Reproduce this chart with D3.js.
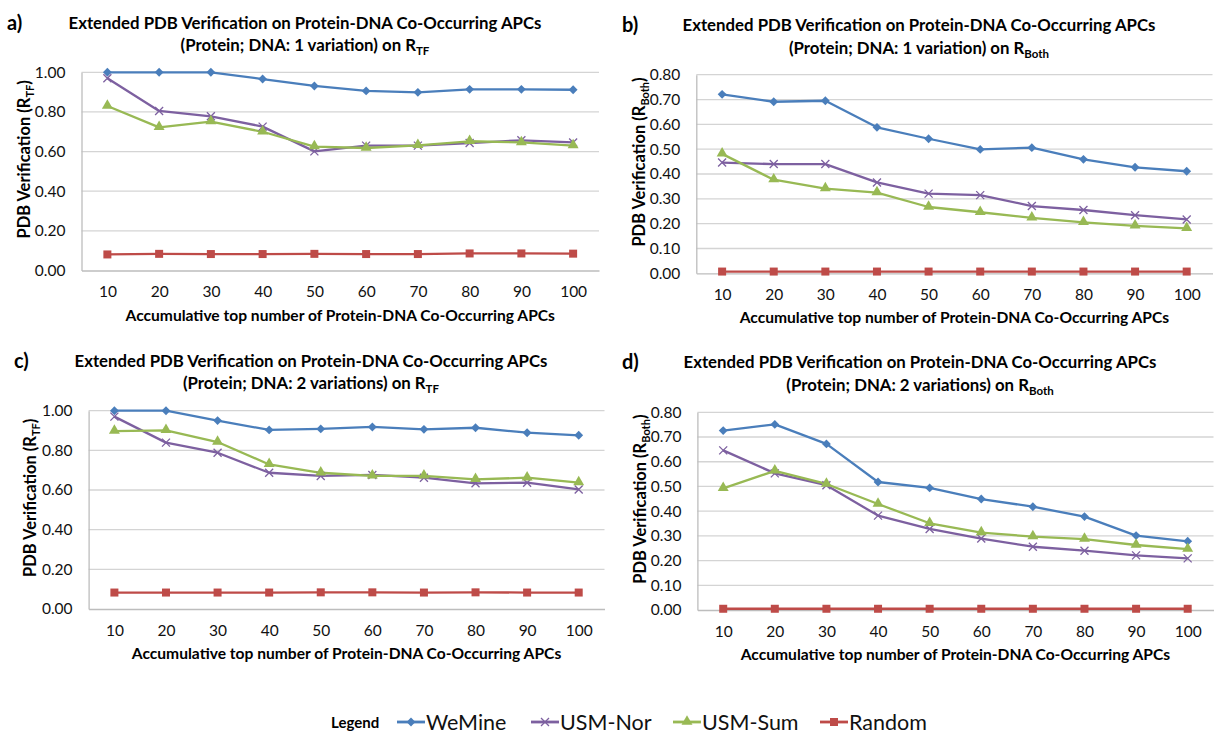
<!DOCTYPE html>
<html>
<head>
<meta charset="utf-8">
<script src="https://cdn.jsdelivr.net/npm/d3@7"></script>
<style>
  html, body { margin: 0; padding: 0; background: #ffffff; }
  svg { display: block; font-family: Lato, "Open Sans", sans-serif; }
</style>
</head>
<body>
<svg id="chart" width="1214" height="735"></svg>
<script>
// ---------- data ----------
const categories = [10, 20, 30, 40, 50, 60, 70, 80, 90, 100];
const seriesNames = ["WeMine", "USM-Nor", "USM-Sum", "Random"];
const seriesColors = ["#4A7EBB", "#7D60A0", "#98B954", "#BE4B48"];
const seriesMarkers = ["diamond", "cross", "triangle", "square"];

// a) 1 variation, R_TF
const aWeMine = [1.000, 1.000, 1.000, 0.966, 0.931, 0.906, 0.899, 0.914, 0.914, 0.912];
const aUsmNor = [0.970, 0.805, 0.778, 0.726, 0.601, 0.630, 0.630, 0.643, 0.657, 0.646];
const aUsmSum = [0.830, 0.722, 0.751, 0.700, 0.625, 0.618, 0.631, 0.652, 0.646, 0.630];
const aRandom = [0.081, 0.084, 0.083, 0.083, 0.084, 0.083, 0.083, 0.086, 0.086, 0.085];

// b) 1 variation, R_Both
const bWeMine = [0.721, 0.691, 0.695, 0.588, 0.542, 0.499, 0.506, 0.459, 0.427, 0.411];
const bUsmNor = [0.446, 0.440, 0.440, 0.366, 0.321, 0.315, 0.271, 0.255, 0.234, 0.217];
const bUsmSum = [0.481, 0.377, 0.341, 0.325, 0.267, 0.246, 0.223, 0.205, 0.191, 0.181];
const bRandom = [0.007, 0.007, 0.007, 0.007, 0.007, 0.007, 0.007, 0.007, 0.007, 0.007];

// c) 2 variations, R_TF
const cWeMine = [1.000, 1.000, 0.950, 0.903, 0.908, 0.918, 0.906, 0.914, 0.889, 0.876];
const cUsmNor = [0.970, 0.839, 0.788, 0.687, 0.671, 0.676, 0.662, 0.634, 0.637, 0.603];
const cUsmSum = [0.897, 0.901, 0.842, 0.729, 0.687, 0.671, 0.671, 0.654, 0.662, 0.637];
const cRandom = [0.083, 0.083, 0.083, 0.083, 0.084, 0.084, 0.083, 0.084, 0.083, 0.083];

// d) 2 variations, R_Both
const dWeMine = [0.726, 0.751, 0.672, 0.518, 0.494, 0.449, 0.418, 0.378, 0.301, 0.278];
const dUsmNor = [0.646, 0.553, 0.505, 0.382, 0.328, 0.289, 0.256, 0.240, 0.221, 0.209];
const dUsmSum = [0.492, 0.563, 0.510, 0.429, 0.351, 0.313, 0.297, 0.287, 0.263, 0.246];
const dRandom = [0.005, 0.005, 0.005, 0.005, 0.005, 0.005, 0.005, 0.005, 0.005, 0.005];

const ticksTF = [0, 0.2, 0.4, 0.6, 0.8, 1.0];
const ticksBoth = [0, 0.1, 0.2, 0.3, 0.4, 0.5, 0.6, 0.7, 0.8];

const titleLine1 = "Extended PDB Verification on Protein-DNA Co-Occurring APCs";
const xAxisTitle = "Accumulative top number of Protein-DNA Co-Occurring APCs";
const legendTitle = "Legend";

// ---------- layout ----------
const panels = [
  { tag: "a)", line2: "(Protein; DNA: 1 variation) on R", sub: "TF", ymax: 1.0, ticks: ticksTF,
    data: [aWeMine, aUsmNor, aUsmSum, aRandom],
    left: 81.5, right: 599, top: 72.3, bottom: 270.5, titleX: 305, titleY: 22.7, tagX: 7, yTitleX: 24 },
  { tag: "b)", line2: "(Protein; DNA: 1 variation) on R", sub: "Both", ymax: 0.8, ticks: ticksBoth,
    data: [bWeMine, bUsmNor, bUsmSum, bRandom],
    left: 696.3, right: 1212.5, top: 74.7, bottom: 273.3, titleX: 919, titleY: 25, tagX: 622, yTitleX: 639 },
  { tag: "c)", line2: "(Protein; DNA: 2 variations) on R", sub: "TF", ymax: 1.0, ticks: ticksTF,
    data: [cWeMine, cUsmNor, cUsmSum, cRandom],
    left: 88.6, right: 604.5, top: 410.7, bottom: 609, titleX: 311, titleY: 360.7, tagX: 14, yTitleX: 30 },
  { tag: "d)", line2: "(Protein; DNA: 2 variations) on R", sub: "Both", ymax: 0.8, ticks: ticksBoth,
    data: [dWeMine, dUsmNor, dUsmSum, dRandom],
    left: 697.4, right: 1213.5, top: 412.3, bottom: 610, titleX: 920, titleY: 362.3, tagX: 622, yTitleX: 640 }
];

const svg = d3.select("#chart");

function drawMarker(g, type, x, y, color) {
  if (type === "diamond") {
    g.append("path").attr("d", d3.symbol().type(d3.symbolDiamond2).size(50)())
      .attr("transform", `translate(${x},${y})`).attr("fill", color);
  } else if (type === "square") {
    g.append("rect").attr("x", x - 4).attr("y", y - 4).attr("width", 8).attr("height", 8).attr("fill", color);
  } else if (type === "triangle") {
    g.append("path").attr("d", d3.symbol().type(d3.symbolTriangle).size(52)())
      .attr("transform", `translate(${x},${y - 0.5})`).attr("fill", color);
  } else if (type === "cross") {
    g.append("path").attr("d", `M${x - 4},${y - 4}L${x + 4},${y + 4}M${x - 4},${y + 4}L${x + 4},${y - 4}`)
      .attr("stroke", color).attr("stroke-width", 1.3).attr("fill", "none");
  }
}

panels.forEach(p => {
  const g = svg.append("g");
  const x = d3.scalePoint().domain(categories).range([p.left, p.right]).padding(0.5);
  const y = d3.scaleLinear().domain([0, p.ymax]).range([p.bottom, p.top]);

  // gridlines
  g.append("g").selectAll("line").data(p.ticks.slice(1)).join("line")
    .attr("x1", p.left).attr("x2", p.right)
    .attr("y1", d => y(d)).attr("y2", d => y(d))
    .attr("stroke", "#d4d4d4").attr("stroke-width", 1.3);

  // y axis
  const yAxis = d3.axisLeft(y).tickValues(p.ticks).tickFormat(d3.format(".2f")).tickSize(0).tickPadding(16);
  const ya = g.append("g").attr("transform", `translate(${p.left},0)`).call(yAxis);
  ya.select(".domain").attr("stroke", "#bdbdbd").attr("stroke-width", 1.3);
  ya.selectAll("text").attr("font-size", 15.5).attr("fill", "#111").attr("font-family", "Lato");

  // x axis
  const xAxis = d3.axisBottom(x).tickSize(0).tickPadding(15.5);
  const xa = g.append("g").attr("transform", `translate(0,${p.bottom})`).call(xAxis);
  xa.select(".domain").attr("stroke", "#bdbdbd").attr("stroke-width", 1.3);
  xa.selectAll("text").attr("font-size", 15.5).attr("fill", "#111").attr("font-family", "Lato");

  // lines and markers
  const line = d3.line().x((d, i) => x(categories[i])).y(d => y(d));
  p.data.forEach((vals, si) => {
    g.append("path").datum(vals).attr("d", line)
      .attr("fill", "none").attr("stroke", seriesColors[si]).attr("stroke-width", 2.3)
      .attr("stroke-linejoin", "round");
  });
  p.data.forEach((vals, si) => {
    const mg = g.append("g");
    vals.forEach((v, i) => drawMarker(mg, seriesMarkers[si], x(categories[i]), y(v), seriesColors[si]));
  });

  // titles
  g.append("text").attr("x", p.tagX).attr("y", p.titleY + 7)
    .attr("font-size", 20).attr("font-weight", "bold").attr("fill", "#000").text(p.tag);
  g.append("text").attr("x", p.titleX).attr("y", p.titleY + 6).attr("text-anchor", "middle")
    .attr("font-size", 16.8).attr("font-weight", "bold").attr("fill", "#000").text(titleLine1);
  const t2 = g.append("text").attr("x", p.titleX).attr("y", p.titleY + 22.5 + 6).attr("text-anchor", "middle")
    .attr("font-size", 16.8).attr("font-weight", "bold").attr("fill", "#000");
  t2.append("tspan").text(p.line2);
  t2.append("tspan").attr("font-size", 11.5).attr("dy", 4).text(p.sub);

  // x axis title
  g.append("text").attr("x", (p.left + p.right) / 2).attr("y", p.bottom + 44.5 + 5.5)
    .attr("text-anchor", "middle").attr("font-size", 15.6).attr("font-weight", "bold").attr("fill", "#000")
    .text(xAxisTitle);

  // y axis title
  const cy = (p.top + p.bottom) / 2 - 12;
  const yt = g.append("text").attr("transform", `translate(${p.yTitleX + 6},${cy}) rotate(-90)`)
    .attr("text-anchor", "middle").attr("font-size", 16.5).attr("font-weight", "bold").attr("fill", "#000");
  yt.append("tspan").text("PDB Verification (R");
  yt.append("tspan").attr("font-size", 11).attr("dy", 4).text(p.sub);
  yt.append("tspan").attr("dy", -4).text(")");
});

// ---------- legend ----------
const lg = svg.append("g");
const legendY = 722;
lg.append("text").attr("x", 331).attr("y", legendY + 5.5).attr("font-size", 15).attr("font-weight", "bold")
  .attr("fill", "#000").text(legendTitle);
const legendStarts = [397, 531, 673, 820];
seriesNames.forEach((name, i) => {
  const x0 = legendStarts[i];
  lg.append("line").attr("x1", x0).attr("x2", x0 + 28).attr("y1", legendY).attr("y2", legendY)
    .attr("stroke", seriesColors[i]).attr("stroke-width", 2.8);
  drawMarker(lg, seriesMarkers[i], x0 + 14, legendY, seriesColors[i]);
  lg.append("text").attr("x", x0 + 29).attr("y", legendY + 7.5).attr("font-size", 21.5)
    .attr("fill", "#111").text(name);
});
</script>
</body>
</html>
